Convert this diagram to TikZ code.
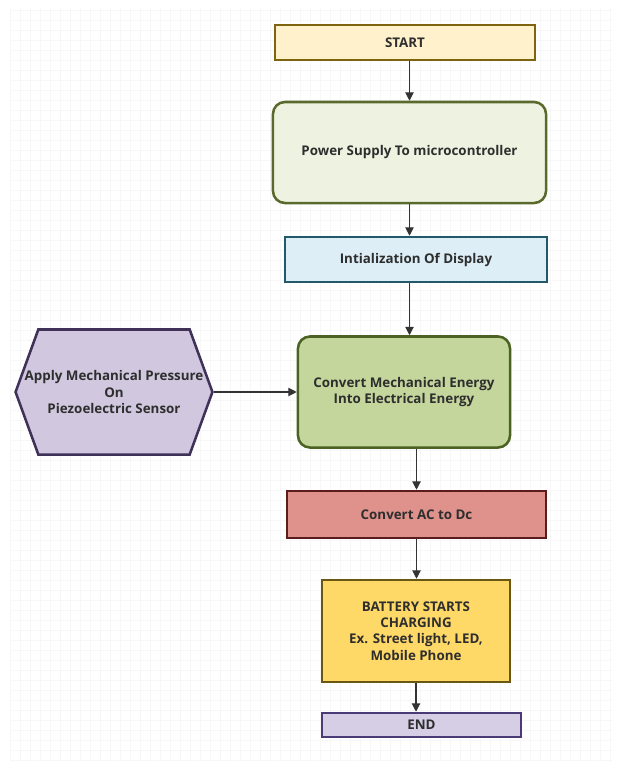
\documentclass[tikz,border=0pt]{standalone}
\usepackage{fontspec}
\setsansfont{Open Sans}
\usepackage{tikz}
\usetikzlibrary{arrows.meta,shapes.symbols}

\definecolor{startfill}{HTML}{FFF1CC}
\definecolor{startline}{HTML}{7F6410}
\definecolor{powerfill}{HTML}{EEF3E1}
\definecolor{powerline}{HTML}{5A6A2C}
\definecolor{initfill}{HTML}{DDEEF6}
\definecolor{initline}{HTML}{22596A}
\definecolor{convfill}{HTML}{C4D69C}
\definecolor{convline}{HTML}{4B6222}
\definecolor{hexfill}{HTML}{D1C7DF}
\definecolor{hexline}{HTML}{3F3158}
\definecolor{acfill}{HTML}{DF918B}
\definecolor{acline}{HTML}{5C1C1C}
\definecolor{battfill}{HTML}{FFD968}
\definecolor{battline}{HTML}{6A5812}
\definecolor{endfill}{HTML}{D6CEE5}
\definecolor{endline}{HTML}{4A3B78}
\definecolor{txt}{HTML}{2E2E2E}

% riga di testo che puo' uscire dal bordo
\newcommand{\hexrow}[1]{\makebox[0pt]{#1}}

\begin{document}
\begin{tikzpicture}[x=0.025cm, y=-0.025cm,
  every node/.style={draw, line width=1.8pt, inner sep=0pt, align=center,
    text=txt, font=\sffamily\bfseries\fontsize{9.5}{11.5}\selectfont},
  box/.style={rectangle},
  roundbox/.style={rectangle, rounded corners=0.3cm},
  arr/.style={-{Triangle[length=6pt,width=6pt]}, line width=0.8pt, black!80}]

\useasboundingbox (0,0) rectangle (621,769);

% griglia di sfondo
\draw[gray!6, line width=0.2pt, step=0.25cm] (10,8) grid (612,762);

% Blocchi
\node[box, fill=startfill, draw=startline, minimum width=6.5cm, minimum height=0.875cm] (start) at (405,42.5) {START};
\node[roundbox, fill=powerfill, draw=powerline, minimum width=6.825cm, minimum height=2.525cm] (power) at (409.5,152.5) {Power Supply To microcontroller};
\node[box, fill=initfill, draw=initline, minimum width=6.55cm, minimum height=1.125cm] (init) at (416,259.5) {Intialization Of Display};
\node[roundbox, fill=convfill, draw=convline, minimum width=5.3cm, minimum height=2.775cm] (conv) at (404,392) {Convert Mechanical Energy\\Into Electrical Energy};
\node[signal, signal to=west and east, signal pointer angle=140, fill=hexfill, draw=hexline, minimum width=4.92cm, minimum height=3.125cm] (piezo) at (114,392) {\hexrow{Apply Mechanical Pressure}\\\hexrow{On}\\\hexrow{Piezoelectric Sensor}};
\node[box, fill=acfill, draw=acline, minimum width=6.475cm, minimum height=1.175cm] (ac) at (416.5,514.5) {Convert AC to Dc};
\node[box, fill=battfill, draw=battline, minimum width=4.7cm, minimum height=2.55cm] (batt) at (416,631) {BATTERY STARTS\\CHARGING\\Ex. Street light, LED,\\Mobile Phone};
\node[box, fill=endfill, draw=endline, minimum width=4.975cm, minimum height=0.6cm] (stop) at (421.5,725) {END};

% Frecce
\draw[arr] (power.north |- start.south) -- (power.north);
\draw[arr] (power.south) -- (power.south |- init.north);
\draw[arr] (power.south |- init.south) -- (power.south |- conv.north);
\draw[arr] (piezo.east) -- (conv.west);
\draw[arr] (ac.north |- conv.south) -- (ac.north);
\draw[arr] (ac.south) -- (ac.south |- batt.north);
\draw[arr] (batt.south) -- (batt.south |- stop.north);
\end{tikzpicture}
\end{document}
